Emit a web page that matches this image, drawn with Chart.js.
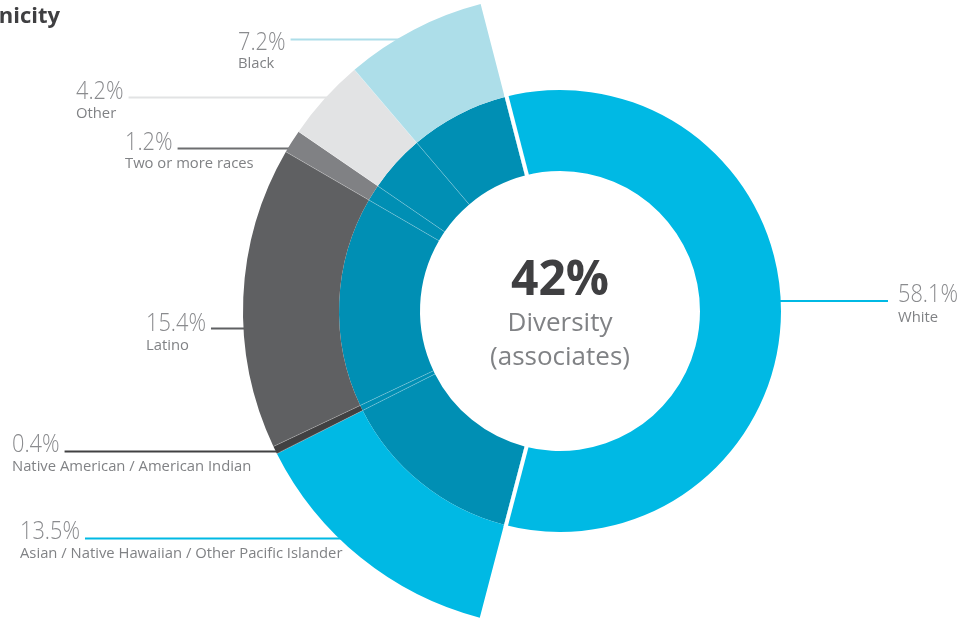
<!DOCTYPE html>
<html><head><meta charset="utf-8">
<script src="https://cdn.jsdelivr.net/npm/chart.js@4/dist/chart.umd.min.js"></script>
<style>html,body{margin:0;padding:0;background:#fff;overflow:hidden}#wrap{position:relative;width:961px;height:620px}</style>
</head><body><div id="wrap"><canvas id="c" width="961" height="620"></canvas></div>
<script>
// ---- data ----
const categories = ['White', 'Asian / Native Hawaiian / Other Pacific Islander', 'Native American / American Indian', 'Latino', 'Two or more races', 'Other', 'Black'];
const values = [58.1, 13.5, 0.4, 15.4, 1.2, 4.2, 7.2];
const titleText = 'Ethnicity';
const centerLines = ['Diversity', '(associates)'];

// ---- styles ----
const outerColors = ['rgba(0,0,0,0)', '#00b9e4', '#414142', '#5f6062', '#808184', '#e2e3e4', '#addee9'];
const innerColors = ['#00b9e4', '#008fb4', '#008fb4', '#008fb4', '#008fb4', '#008fb4', '#008fb4'];
const lineColors = ['#00b9e4', '#00b9e4', '#414142', '#5f6062', '#6d6e70', '#e2e3e4', '#addee9'];
// label layout: text left x, percent baseline, name baseline, leader-line y
const labelLayout = [
  {x: 898, pb: 302, nb: 322, ly: 301, side: 'right'},
  {x: 20, pb: 539, nb: 558, ly: 538.5},
  {x: 12, pb: 452, nb: 471, ly: 451.5},
  {x: 146, pb: 331, nb: 350, ly: 328.5},
  {x: 125, pb: 150, nb: 168, ly: 148.5},
  {x: 76, pb: 99, nb: 118, ly: 97.5},
  {x: 238, pb: 50, nb: 68, ly: 39.5}
];
const PCT_FONT = '300 25px "Open Sans", "Noto Sans", sans-serif';
const PCT_SX = 0.87;
const NAME_FONT = '14.8px "Open Sans", "Noto Sans", sans-serif';
const GREY = '#808285';

function pctText(i) { return values[i].toFixed(1) + '%'; }

const overlay = {
  id: 'overlay',
  beforeDatasetsDraw(chart) {
    const ctx = chart.ctx;
    const outer = chart.getDatasetMeta(0).data;
    const inner = chart.getDatasetMeta(1).data;
    const cx = inner[0].x, cy = inner[0].y;
    ctx.save();
    ctx.lineWidth = 2;
    ctx.font = PCT_FONT;
    labelLayout.forEach((L, i) => {
      ctx.strokeStyle = lineColors[i];
      ctx.beginPath();
      if (L.side === 'right') {
        const R = inner[0].outerRadius;
        const x1 = cx + Math.sqrt(R * R - (L.ly - cy) * (L.ly - cy)) - 2;
        ctx.moveTo(x1, L.ly); ctx.lineTo(L.x - 10, L.ly);
      } else {
        const R = outer[i].outerRadius;
        const x1 = cx - Math.sqrt(R * R - (L.ly - cy) * (L.ly - cy)) + 4;
        const x0 = L.x + ctx.measureText(pctText(i)).width * PCT_SX + 5;
        ctx.moveTo(x0, L.ly); ctx.lineTo(x1, L.ly);
      }
      ctx.stroke();
    });
    ctx.restore();
  },
  afterDatasetsDraw(chart) {
    const ctx = chart.ctx;
    const outer = chart.getDatasetMeta(0).data;
    const inner = chart.getDatasetMeta(1).data;
    const cx = inner[0].x, cy = inner[0].y;
    ctx.save();
    // faint dividers between non-white segments
    ctx.strokeStyle = 'rgba(255,255,255,0.3)';
    ctx.lineWidth = 0.8;
    for (let i = 1; i < inner.length - 1; i++) {
      const a = inner[i].endAngle;
      const r0 = inner[i].innerRadius, r1 = outer[i].outerRadius;
      ctx.beginPath();
      ctx.moveTo(cx + r0 * Math.cos(a), cy + r0 * Math.sin(a));
      ctx.lineTo(cx + r1 * Math.cos(a), cy + r1 * Math.sin(a));
      ctx.stroke();
    }
    // white gaps on either side of the White segment
    ctx.strokeStyle = '#ffffff';
    ctx.lineWidth = 4;
    const w = inner[0];
    [[w.startAngle, 1], [w.endAngle, -1]].forEach(([a, s]) => {
      const nx = -Math.sin(a) * 2 * s, ny = Math.cos(a) * 2 * s;
      const r0 = w.innerRadius - 2, r1 = w.outerRadius + 2;
      ctx.beginPath();
      ctx.moveTo(cx + r0 * Math.cos(a) + nx, cy + r0 * Math.sin(a) + ny);
      ctx.lineTo(cx + r1 * Math.cos(a) + nx, cy + r1 * Math.sin(a) + ny);
      ctx.stroke();
    });
    ctx.restore();
  },
  afterDraw(chart) {
    const ctx = chart.ctx;
    const inner = chart.getDatasetMeta(1).data;
    const cx = inner[0].x;
    ctx.save();
    // labels
    ctx.textAlign = 'left';
    ctx.textBaseline = 'alphabetic';
    labelLayout.forEach((L, i) => {
      ctx.fillStyle = '#8a8b8e';
      ctx.font = PCT_FONT;
      ctx.save();
      ctx.translate(L.x, L.pb);
      ctx.scale(PCT_SX, 1);
      ctx.fillText(pctText(i), 0, 0);
      ctx.restore();
      ctx.fillStyle = GREY;
      ctx.font = NAME_FONT;
      ctx.fillText(categories[i], L.x, L.nb);
    });
    // center text
    ctx.textAlign = 'center';
    ctx.fillStyle = '#3f3f41';
    ctx.font = 'bold 48px "Open Sans", "Noto Sans", sans-serif';
    ctx.fillText(Math.round(100 - values[0]) + '%', cx, 295);
    ctx.fillStyle = GREY;
    ctx.font = '26px "Open Sans", "Noto Sans", sans-serif';
    ctx.fillText(centerLines[0], cx, 331);
    ctx.fillText(centerLines[1], cx, 365);
    // title (cropped at left edge)
    ctx.textAlign = 'right';
    ctx.fillStyle = '#3f3f41';
    ctx.font = 'bold 22px "Open Sans", "Noto Sans", sans-serif';
    ctx.fillText(titleText, 60, 23);
    ctx.restore();
  }
};

new Chart(document.getElementById('c'), {
  type: 'doughnut',
  data: {
    labels: categories,
    datasets: [
      {data: values, backgroundColor: outerColors, borderWidth: 0, weight: 96, clip: false},
      {data: values, backgroundColor: innerColors, borderWidth: 0, weight: 81, clip: false}
    ]
  },
  options: {
    responsive: false,
    animation: false,
    radius: 317,
    cutout: '44.16%',
    rotation: -14.5,
    layout: {padding: {left: 159, right: 0, top: 2, bottom: 0}},
    plugins: {legend: {display: false}, tooltip: {enabled: false}},
    events: []
  },
  plugins: [overlay]
});
</script>
</body></html>
